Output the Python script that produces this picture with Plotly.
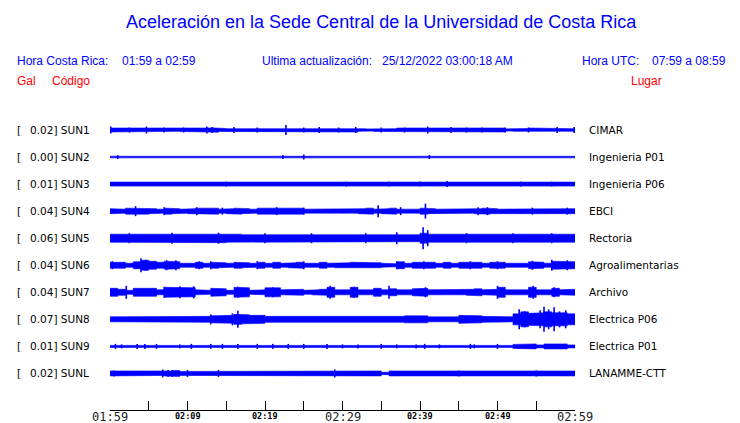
import plotly.graph_objects as go

# ---------------- data ----------------
codes = ["SUN1", "SUN2", "SUN3", "SUN4", "SUN5", "SUN6", "SUN7", "SUN8", "SUN9", "SUNL"]
gal = [0.02, 0.00, 0.01, 0.04, 0.06, 0.04, 0.04, 0.07, 0.01, 0.02]
places = ["CIMAR", "Ingenieria P01", "Ingenieria P06", "EBCI", "Rectoria",
          "Agroalimentarias", "Archivo", "Electrica P06", "Electrica P01", "LANAMME-CTT"]

tick_minutes = [0, 5, 10, 15, 20, 25, 30, 35, 40, 45, 50, 55, 60]
big_tick_minutes = [0, 30, 60]
big_tick_labels = ["01:59", "02:29", "02:59"]
small_tick_minutes = [10, 20, 40, 50]
small_tick_labels = ["02:09", "02:19", "02:39", "02:49"]

# envelope half-amplitude per minute of the hour window (display units)
env_sun1 = [2, 1.5, 2, 1.3, 2, 1.5, 2, 2, 1.3, 1.5, 2, 1.5, 2, 2.2, 1.5, 1.3, 2, 1.5, 1.5, 2,
            2, 1.5, 2, 1.5, 2, 2, 1.3, 2, 1.5, 1.5, 1.3, 2, 1.3, 1.1, 1.5, 1.5, 1.3, 2, 1.5, 2,
            1.3, 2, 2, 1.3, 1.5, 1.3, 1.5, 2, 1.3, 2, 2, 1.1, 1.3, 1.5, 2, 1.5, 1.3, 2, 1.5, 1.3]
env_sun2 = [0.8, 0.8, 0.8, 0.8, 0.8, 0.8, 0.8, 0.8, 0.8, 0.8, 0.8, 0.8, 0.8, 0.8, 0.8, 0.8, 0.8, 0.8, 0.8, 0.8,
            0.8, 0.8, 0.8, 0.8, 0.8, 0.8, 0.8, 0.8, 0.8, 0.8, 0.8, 0.8, 0.8, 0.8, 0.8, 0.8, 0.8, 0.8, 0.8, 0.8,
            0.8, 0.8, 0.8, 0.8, 0.8, 0.8, 0.8, 0.8, 0.8, 0.8, 0.8, 0.8, 0.8, 0.8, 0.8, 0.8, 0.8, 0.8, 0.8, 0.8]
env_sun3 = [2, 2, 2, 1.9, 2, 2, 2, 2, 2, 1.9, 2, 2, 2, 2, 2, 2, 1.9, 2, 2, 2,
            2, 2, 2, 2, 1.9, 2, 2, 2, 2, 1.8, 1.8, 1.7, 1.8, 1.7, 1.7, 1.8, 2, 1.8, 1.7, 1.7,
            1.8, 2, 1.8, 1.8, 1.7, 1.7, 1.8, 2, 2, 1.8, 2, 2, 2, 1.8, 1.8, 2, 2, 2, 1.8, 2]
env_sun4 = [2.5, 2, 3, 2.5, 3, 2.5, 2, 3, 2.5, 2, 2.5, 3, 2.5, 3, 2, 2.5, 3, 2.5, 2, 3,
            2.5, 2.5, 3, 2.5, 3, 2, 2.5, 2, 2, 2, 2.5, 2, 2.5, 3, 2, 2.5, 3, 2, 2.5, 2,
            3, 2.5, 2, 2.5, 2.5, 2, 2, 2.5, 3, 2.5, 2, 2.5, 2, 2.5, 2, 2, 2, 2, 2, 2.5]
env_sun5 = [4, 4.5, 4, 4.5, 4, 4, 4.5, 4, 4.5, 4.5, 4, 4.5, 4, 4, 4.5, 4, 4, 3.5, 4, 4,
            3.5, 4, 3.5, 4, 3.5, 4, 4, 4, 3.5, 4, 3.5, 3.5, 4, 3.5, 3.5, 4, 3.5, 4, 4, 3.5,
            5, 4, 3.5, 3.5, 3.5, 4, 3.5, 3.5, 4, 3.5, 3.5, 3.5, 4, 3.5, 3.5, 4, 3.5, 4, 3.5, 4]
env_sun6 = [3, 3, 2, 3.5, 5, 4, 3, 4, 3.5, 2, 2, 3, 2, 3, 2.5, 2, 3, 2.5, 2, 3,
            2, 3, 2, 2.5, 3, 2, 2, 3, 2, 2.5, 2.5, 3, 2.5, 3, 2.5, 2, 1.5, 3.5, 2, 3,
            3, 3, 2, 3, 2, 3, 3, 3, 2, 3, 3, 2, 1.5, 2, 3.5, 3, 2, 4, 3.5, 3.5]
env_sun7 = [4, 3, 2, 4, 4, 4, 2.5, 5, 5, 5, 4.5, 2.5, 2, 4, 3.5, 2, 5, 4.5, 2, 2.5,
            4.5, 4.5, 2.5, 2.5, 3, 2, 2.5, 3, 5, 2.5, 2.5, 5, 2.5, 2.5, 4, 2.5, 3.5, 2.5, 2.5, 3.5,
            4, 2.5, 2.5, 3, 2.5, 2.5, 3, 3.5, 2.5, 3, 5, 2.5, 2.5, 2.5, 5, 2.5, 2.5, 4, 2.5, 3]
env_sun8 = [2.5, 3, 2.5, 2.5, 3, 2.5, 2.5, 2.5, 3, 2.5, 2.5, 2.5, 3, 3.5, 3.5, 4, 5, 4.5, 4, 4,
            3, 2.5, 3, 2.5, 2.5, 3, 2.5, 3, 2.5, 3, 2.5, 2.5, 2.5, 2.5, 2.5, 2.5, 2.5, 3, 3.5, 4,
            3.5, 2.5, 2.5, 2.5, 2.5, 4, 3.5, 3.5, 3, 2.5, 2.5, 2.5, 5.5, 7.5, 6, 6.5, 7.5, 6.5, 6.5, 5.5]
env_sun9 = [1, 1, 1, 1, 1, 1, 1, 1, 1, 1, 1, 1, 1, 1, 1, 1, 1, 1, 1, 1,
            1, 1, 1, 1, 1, 1, 1, 1, 1, 1, 1, 1, 1, 1, 1, 1, 1, 1, 1, 1,
            1, 1, 1, 1, 1, 1, 1, 1, 1, 1, 1, 1, 2, 2.5, 2.5, 1.5, 2.5, 2.5, 2.5, 1.5]
env_sunl = [2.5, 2, 2.5, 2, 2, 2, 2, 2.5, 3, 2, 2.5, 2, 2, 2.5, 2.5, 2, 2, 2, 2, 2,
            2, 2, 2, 2, 2, 2, 2, 2, 2, 2.5, 2, 2.5, 2, 2.5, 2.5, 1.2, 2.5, 2.5, 2, 2,
            2.5, 2, 2.5, 2, 2.5, 2, 2, 2.5, 2, 2, 2.5, 2, 2.5, 2, 2, 2.5, 2, 2, 2.5, 2.5]

# short transients: minute within window, half-amplitude
spike_min_sun1 = [0.1, 2.5, 4.7, 7, 9.5, 12.5, 13.2, 16, 19, 22.7, 25, 27, 29.5, 31.7,
                  35, 38, 41, 44, 46, 48, 51, 54, 57.7, 59.9]
spike_amp_sun1 = [3.5, 2.5, 3.5, 2.5, 2.5, 3.5, 3, 3, 2.5, 5, 2.5, 3, 2.5, 3,
                  2.5, 2.5, 3.5, 3, 2.5, 2.5, 2.5, 2.5, 3, 3]
spike_min_sun2 = [1, 22.3, 25, 41.2]
spike_amp_sun2 = [2, 2, 2.5, 2]
spike_min_sun3 = [15, 30.5, 36, 40, 43.5, 53, 57]
spike_amp_sun3 = [2.5, 2.5, 2.5, 2.5, 3, 2.5, 2.5]
spike_min_sun4 = [3.3, 7, 11.2, 14.5, 21.5, 25, 34.6, 37.5, 40.7, 47.5, 48.7, 54.5, 59]
spike_amp_sun4 = [5, 4, 4, 3.5, 4, 3.5, 6, 4, 7.5, 4, 4, 3.5, 3.5]
spike_min_sun5 = [2.5, 8, 14, 20, 26, 33, 37, 40.4, 41, 46, 52, 57]
spike_amp_sun5 = [5, 5.5, 5.5, 5, 5, 5, 6, 11, 8, 5, 5, 5]
spike_min_sun6 = [0.3, 4, 4.6, 7.3, 8.5, 11.5, 13, 19, 25, 37, 40.5, 46.5, 50, 54.5, 57, 59]
spike_amp_sun6 = [4, 7, 5.5, 5, 5, 4, 4, 4, 4, 4, 4, 4, 4, 4.5, 5.5, 5]
spike_min_sun7 = [2.1, 7, 9, 10.8, 16.5, 21, 28.4, 31.5, 36, 40.7, 50, 54.6, 57.3]
spike_amp_sun7 = [6.5, 5.5, 6, 6, 5.5, 5, 6.5, 5.5, 6.5, 5, 6.5, 6.5, 5]
spike_min_sun8 = [13, 15.8, 16.5, 52.8, 53.5, 55.5, 56, 56.6, 57.3, 58, 58.8]
spike_amp_sun8 = [5, 6, 8.5, 10, 8, 9, 12.5, 10, 12, 8, 9]
spike_min_sun9 = [0.7, 1.5, 3.5, 4.5, 6, 9, 10.5, 13, 14.5, 16.5, 19, 21, 23, 25, 28, 30,
                  32, 35, 37, 39.5, 40.6, 42.5, 46.5, 47, 50]
spike_amp_sun9 = [2.5, 2, 2.5, 2.5, 2.5, 2, 2.5, 2.5, 2.5, 2.5, 2.5, 2.5, 2.5, 2.5, 2.5, 2,
                  2, 2.5, 2, 2, 2.5, 2, 2.5, 2, 2.5]
spike_min_sunl = [0.5, 6.8, 7.5, 8, 10, 14, 29, 45, 55]
spike_amp_sunl = [3, 4, 3.5, 3.5, 3.5, 3.5, 4, 3, 3]

envelopes = [env_sun1, env_sun2, env_sun3, env_sun4, env_sun5,
             env_sun6, env_sun7, env_sun8, env_sun9, env_sunl]
spike_mins = [spike_min_sun1, spike_min_sun2, spike_min_sun3, spike_min_sun4, spike_min_sun5,
              spike_min_sun6, spike_min_sun7, spike_min_sun8, spike_min_sun9, spike_min_sunl]
spike_amps = [spike_amp_sun1, spike_amp_sun2, spike_amp_sun3, spike_amp_sun4, spike_amp_sun5,
              spike_amp_sun6, spike_amp_sun7, spike_amp_sun8, spike_amp_sun9, spike_amp_sunl]

title_text = "Aceleración en la Sede Central de la Universidad de Costa Rica"
hora_cr = "01:59 a 02:59"
hora_utc = "07:59 a 08:59"
ultima = "25/12/2022 03:00:18 AM"

# ---------------- layout ----------------
W, H = 740, 423
ML, MR, MT, MB = 110, 165, 115, 13
PW = W - ML - MR
PH = H - MT - MB
BOTTOM = H - MB
ROW0, ROWGAP = 130, 27.05
BLUE = "#0000FF"
RED = "#FF0000"


def px(xp):
    return (xp - ML) / PW


def py(yp):
    return (BOTTOM - yp) / PH


fig = go.Figure()

sx, sy = [], []
for i, env in enumerate(envelopes):
    base = ROW0 + ROWGAP * i
    xs, ys = [], []
    for k, a in enumerate(env):
        xs += [k, k + 1]
        ys += [base - a, base - a]
    for k in range(len(env) - 1, -1, -1):
        a = env[k]
        xs += [k + 1, k]
        ys += [base + a, base + a]
    fig.add_trace(go.Scatter(x=xs, y=ys, mode="lines", fill="toself",
                             fillcolor=BLUE, line=dict(color=BLUE, width=0.6),
                             hoverinfo="skip", showlegend=False))
    for m, a in zip(spike_mins[i], spike_amps[i]):
        sx += [m, m, None]
        sy += [base - a, base + a, None]

fig.add_trace(go.Scatter(x=sx, y=sy, mode="lines", line=dict(color=BLUE, width=1.6),
                         hoverinfo="skip", showlegend=False))

ann = []
lab_font = dict(family="DejaVu Sans", size=10.5, color="black")
for i in range(len(codes)):
    base = ROW0 + ROWGAP * i
    ann.append(dict(x=px(15), y=base, xref="paper", yref="y", text="[",
                    xanchor="left", yanchor="middle", showarrow=False, font=lab_font))
    ann.append(dict(x=px(27.5), y=base, xref="paper", yref="y",
                    text=f"{gal[i]:.2f}] {codes[i]}",
                    xanchor="left", yanchor="middle", showarrow=False, font=lab_font))
    ann.append(dict(x=px(587), y=base, xref="paper", yref="y", text=places[i],
                    xanchor="left", yanchor="middle", showarrow=False, font=lab_font))

for m, t in zip(big_tick_minutes, big_tick_labels):
    ann.append(dict(x=m, y=0, xref="x", yref="paper", text=t, xanchor="center",
                    yanchor="middle", yshift=-7, showarrow=False,
                    font=dict(family="DejaVu Sans Mono", size=12, color="#222222")))
for m, t in zip(small_tick_minutes, small_tick_labels):
    ann.append(dict(x=m, y=0, xref="x", yref="paper", text=t, xanchor="center",
                    yanchor="middle", yshift=-6, showarrow=False,
                    font=dict(family="DejaVu Sans Mono", size=8.5, color="black",
                              weight="bold")))

hdr = dict(family="Liberation Sans", size=12, color=BLUE)
red = dict(family="Liberation Sans", size=12, color=RED)


def txt(x, y, s, font, anchor="left"):
    ann.append(dict(x=px(x), y=py(y), xref="paper", yref="paper", text=s,
                    xanchor=anchor, yanchor="middle", showarrow=False, font=font))


txt(381, 22, title_text, dict(family="Liberation Sans", size=18, color=BLUE), "center")
txt(15, 61, "Hora Costa Rica:", hdr)
txt(120, 61, hora_cr, hdr)
txt(260, 61, "Ultima actualización:", hdr)
txt(380, 61, ultima, hdr)
txt(580, 61, "Hora UTC:", hdr)
txt(650, 61, hora_utc, hdr)
txt(15, 81, "Gal", red)
txt(50, 81, "Código", red)
txt(629, 81, "Lugar", red)

fig.update_layout(
    width=W, height=H,
    margin=dict(l=ML, r=MR, t=MT, b=MB, pad=0),
    paper_bgcolor="white", plot_bgcolor="white",
    showlegend=False,
    annotations=ann,
    xaxis=dict(range=[0, 60], showgrid=False, zeroline=False, showline=True,
               linecolor="black", linewidth=1, ticks="inside", ticklen=9,
               tickwidth=1, tickcolor="black", tickvals=tick_minutes,
               showticklabels=False, fixedrange=True),
    yaxis=dict(range=[BOTTOM, MT], visible=False, fixedrange=True),
)

fig.write_html("out.html", config={"displayModeBar": False},
               post_script="document.body.style.margin='0';document.body.style.overflow='hidden';")
